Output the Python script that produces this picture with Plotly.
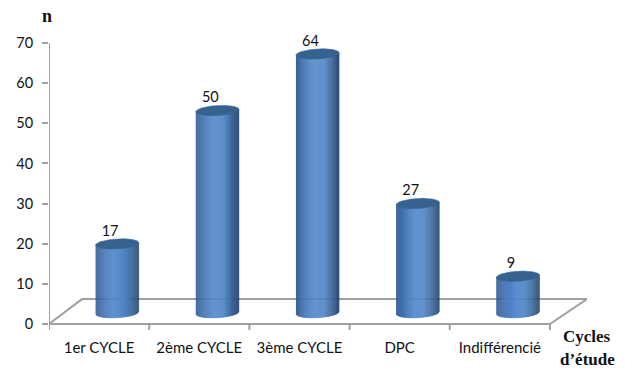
import numpy as np
import plotly.graph_objects as go

categories = ["1er CYCLE", "2ème CYCLE", "3ème CYCLE", "DPC", "Indifférencié"]
values = [17, 50, 64, 27, 9]
y_ticks = [0, 10, 20, 30, 40, 50, 60, 70]

GRID = "#a0a0a0"
TEXT = "#111111"
SANS = "Lato, Carlito, sans-serif"
SERIF = "Liberation Serif, serif"

# Page layout in pixels; the y range runs a little past 0-70 so that the
# separators below the axis and the tallest label stay inside the plot area
WIDTH, HEIGHT = 625, 368
M_L, M_R, M_T, M_B = 49, 38, 35, 36
Y_MIN, Y_MAX = -2, 72
X_MAX = 5.37

# Pseudo-3D geometry, in axis units
DEPTH_X = 0.18       # cylinders stand on the middle of the floor
BASE_Y = 2.82
HEIGHT_SCALE = 1.007
HALF_W = 0.215
ELLIPSE_H = 1.25
TILT = 0.3
STRIPS = 44


def shade(t):
    """Side colour of a cylinder at t in [-1, 1], left edge to right edge."""
    stops_t = [-1.0, -0.6, -0.15, 0.3, 0.65, 1.0]
    stops_r = [52, 68, 84, 80, 60, 40]
    stops_g = [92, 118, 136, 132, 104, 72]
    stops_b = [146, 182, 204, 198, 158, 108]
    r = np.interp(t, stops_t, stops_r)
    g = np.interp(t, stops_t, stops_g)
    b = np.interp(t, stops_t, stops_b)
    return f"rgb({r:.0f},{g:.0f},{b:.0f})"


def front_arc(t):
    return -ELLIPSE_H * np.sqrt(np.clip(1 - t ** 2, 0, 1)) + TILT * t


def gray_line(xs, ys):
    return go.Scatter(
        x=xs, y=ys, mode="lines",
        line=dict(color=GRID, width=2),
        hoverinfo="skip", cliponaxis=False,
    )


fig = go.Figure()

# Vertical axis, floor outline, front edge and category separators
fig.add_trace(gray_line([0, 0], [0, 70]))
fig.add_trace(gray_line([0, 0.33, X_MAX, 5.0, 0], [0, 6.2, 6.2, 0, 0]))
for i in range(6):
    fig.add_trace(gray_line([i, i], [0, -1.5]))

edges = np.linspace(-1, 1, STRIPS + 1)
for i, value in enumerate(values):
    cx = i + 0.5 + DEPTH_X
    top = BASE_Y + value * HEIGHT_SCALE

    # Side of the cylinder, one vertical strip per shade step
    for t0, t1 in zip(edges[:-1], edges[1:]):
        ts = np.linspace(t0, t1, 3)
        xs = cx + HALF_W * ts
        lower = BASE_Y + front_arc(ts)
        upper = top + TILT * ts
        colour = shade((t0 + t1) / 2)
        fig.add_trace(go.Scatter(
            x=np.concatenate([xs, xs[::-1]]),
            y=np.concatenate([lower, upper[::-1]]),
            mode="lines", fill="toself", fillcolor=colour,
            line=dict(color=colour, width=0.6),
            hoverinfo="skip", cliponaxis=False,
        ))

    # Top cap
    angle = np.linspace(0, 2 * np.pi, 73)
    tc = np.cos(angle)
    fig.add_trace(go.Scatter(
        x=cx + HALF_W * tc,
        y=top + ELLIPSE_H * np.sin(angle) + TILT * tc,
        mode="lines", fill="toself", fillcolor="#36628f",
        line=dict(color="#3a6694", width=0.6),
        hoverinfo="skip", cliponaxis=False,
    ))

# Value labels above the caps
fig.add_trace(go.Scatter(
    x=[i + 0.5 + DEPTH_X - 0.07 for i in range(len(values))],
    y=[BASE_Y + v * HEIGHT_SCALE + 3.0 for v in values],
    mode="text",
    text=[str(v) for v in values],
    textposition="middle center",
    textfont=dict(family=SANS, size=14.5, color=TEXT),
    hoverinfo="skip", cliponaxis=False,
))


def page_label(text, px, py, size):
    """Bold serif label placed by its centre in page pixels."""
    return dict(
        text=f"<b>{text}</b>",
        x=(px - M_L) / (WIDTH - M_L - M_R),
        y=(HEIGHT - py - M_B) / (HEIGHT - M_T - M_B),
        xref="paper", yref="paper",
        xanchor="center", yanchor="middle",
        showarrow=False,
        font=dict(family=SERIF, size=size, color=TEXT),
    )


fig.update_layout(
    width=WIDTH, height=HEIGHT,
    margin=dict(l=M_L, r=M_R, t=M_T, b=M_B, pad=0),
    paper_bgcolor="white", plot_bgcolor="white",
    showlegend=False,
    hovermode=False,
    xaxis=dict(
        range=[0, X_MAX],
        tickmode="array",
        tickvals=[i + 0.5 for i in range(len(categories))],
        ticktext=categories,
        ticks="", showgrid=False, zeroline=False, showline=False,
        tickfont=dict(family=SANS, size=15, color=TEXT),
        ticklabelstandoff=5,
        fixedrange=True,
    ),
    yaxis=dict(
        range=[Y_MIN, Y_MAX],
        tickmode="array",
        tickvals=y_ticks,
        ticks="outside", ticklen=6, tickwidth=2, tickcolor=GRID,
        showgrid=False, zeroline=False, showline=False,
        tickfont=dict(family=SANS, size=14.5, color=TEXT),
        ticklabelstandoff=6,
        fixedrange=True,
    ),
    annotations=[
        page_label("n", 47, 16, 18),
        page_label("Cycles", 587, 336, 17),
        page_label("d’étude", 587, 359, 17),
    ],
)

fig.write_html("out.html", config=dict(displayModeBar=False))
